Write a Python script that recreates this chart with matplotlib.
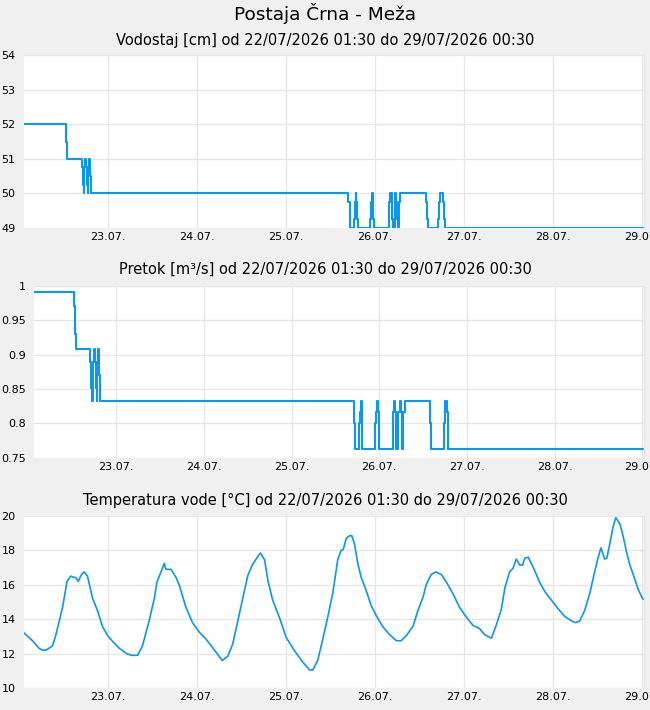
import matplotlib
matplotlib.use("Agg")
import matplotlib.pyplot as plt
import matplotlib.dates as mdates
import numpy as np
import pandas as pd

T0 = pd.Timestamp("2026-07-22 00:00")
T_START = pd.Timestamp("2026-07-22 01:30")
T_END = pd.Timestamp("2026-07-29 00:30")

# ---- Water level [cm]: change events (hours since 22.07. 00:00, value)
level_hours = [1.5, 12.78, 13.05, 17.0, 17.27, 17.54, 17.72, 17.99, 18.26, 18.44,
               18.62, 18.8, 19.07, 19.25, 19.52,
               88.74, 89.19, 89.37, 90.36, 90.53, 90.80, 90.98, 91.25, 91.52,
               94.76, 94.94, 95.21, 95.39, 95.57, 95.75,
               99.70, 99.88, 100.06, 100.51, 100.69, 100.87, 101.32, 101.50,
               101.77, 101.95, 102.13, 102.40, 102.67,
               109.86, 110.13, 110.40, 113.01, 113.28, 113.64, 114.36, 114.53,
               114.81, 168.5]
level_values = [52.0, 51.5, 51.0, 50.75, 50.25, 50.0, 50.75, 51.0, 50.75, 50.25,
                50.0, 50.75, 51.0, 50.5, 50.0,
                49.75, 49.25, 49.0, 49.25, 49.75, 50.0, 49.75, 49.25, 49.0,
                49.25, 49.75, 50.0, 49.75, 49.25, 49.0,
                49.25, 49.75, 50.0, 49.75, 49.25, 49.0, 49.75, 50.0,
                49.75, 49.25, 49.0, 49.75, 50.0,
                49.75, 49.25, 49.0, 49.25, 49.75, 50.0, 49.75, 49.25,
                49.0, 49.0]

# ---- Discharge [m3/s]: change events
flow_hours = [1.5, 12.47, 12.83, 13.11, 16.86, 17.13, 17.49, 17.68, 18.04, 18.32,
              18.5, 18.68, 18.87, 19.14, 19.32, 19.51,
              89.06, 89.33, 90.52, 90.70, 90.98, 91.16, 91.43,
              94.99, 95.17, 95.35, 95.55, 95.82,
              99.66, 99.94, 100.21, 100.48, 101.21, 101.58, 101.86, 102.13,
              102.59, 102.95,
              109.9, 110.28, 113.74, 113.92, 114.1, 114.47, 114.74, 168.5]
flow_values = [0.991, 0.971, 0.930, 0.908, 0.890, 0.852, 0.832, 0.890, 0.908, 0.890,
               0.852, 0.832, 0.890, 0.908, 0.871, 0.832,
               0.800, 0.762, 0.800, 0.816, 0.833, 0.816, 0.762,
               0.800, 0.816, 0.833, 0.816, 0.762,
               0.816, 0.833, 0.816, 0.762, 0.816, 0.833, 0.816, 0.762,
               0.816, 0.833,
               0.800, 0.762, 0.800, 0.816, 0.833, 0.816, 0.762, 0.762]

# ---- Water temperature [°C] readings
temp_hours = [1.5, 3.8, 5.6, 6.5, 7.4, 9.2, 10.1, 11.0, 11.9, 12.8, 13.1, 14.1,
              15.5, 16.1, 17.0, 17.7, 18.6, 19.3, 20.0, 21.3, 22.7, 24.0, 25.4,
              27.2, 29.2, 30.3, 32.1, 33.4, 35.2, 36.6, 37.3, 38.4, 39.3, 39.7,
              41.1, 42.4, 43.3, 45.1, 46.9, 48.7, 50.5, 52.3, 53.7, 54.9, 56.4,
              57.7, 59.1, 60.4, 61.8, 63.1, 64.5, 65.2, 66.3, 67.2, 68.5, 70.3,
              72.1, 74.4, 76.6, 78.4, 79.3, 80.6, 82.0, 83.3, 84.7, 86.0, 86.9,
              87.5, 88.3, 89.2, 89.8, 90.5, 91.4, 92.3, 93.7, 95.0, 96.4, 98.2,
              100.0, 101.3, 101.8, 103.1, 104.5, 106.3, 107.6, 109.0, 109.9,
              111.2, 112.4, 113.9, 115.3, 117.0, 118.8, 120.7, 122.4, 124.2,
              125.6, 127.0, 127.4, 128.7, 130.1, 131.0, 132.3, 133.2, 134.1,
              135.0, 135.8, 136.4, 137.3, 138.6, 140.4, 141.8, 143.6, 145.4,
              147.2, 149.0, 150.1, 151.2, 152.5, 153.9, 155.2, 156.1, 156.9,
              157.9, 158.5, 159.3, 160.2, 160.9, 162.0, 162.9, 163.8, 164.7,
              166.0, 166.9, 168.1, 168.5]
temp_values = [13.2, 12.75, 12.3, 12.2, 12.2, 12.45, 13.1, 13.9, 14.7, 15.8, 16.2, 16.5,
               16.4, 16.2, 16.6, 16.75, 16.5, 15.85, 15.2, 14.5, 13.55, 13.05, 12.7,
               12.3, 12.0, 11.9, 11.9, 12.45, 13.9, 15.2, 16.15, 16.75, 17.25, 16.9,
               16.9, 16.45, 16.0, 14.7, 13.8, 13.25, 12.85, 12.35, 11.95, 11.6, 11.85,
               12.55, 13.9, 15.2, 16.55, 17.2, 17.65, 17.85, 17.45, 16.25, 15.1, 14.1,
               12.95, 12.15, 11.5, 11.05, 11.05, 11.6, 12.85, 14.1, 15.55, 17.45, 18.0,
               18.05, 18.7, 18.85, 18.85, 18.4, 17.25, 16.45, 15.65, 14.8, 14.2, 13.55,
               13.1, 12.85, 12.75, 12.75, 13.05, 13.6, 14.5, 15.3, 16.05,
               16.6, 16.75, 16.6, 16.15, 15.5, 14.7, 14.1, 13.65, 13.45,
               13.1, 12.95, 12.9, 13.65, 14.6, 15.8, 16.75, 16.95, 17.5,
               17.15, 17.15, 17.55, 17.6, 17.05, 16.15, 15.6, 15.1, 14.6,
               14.15, 13.9, 13.8, 13.9, 14.5, 15.5, 16.75, 17.55, 18.15,
               17.5, 17.55, 18.4, 19.4, 19.9, 19.55, 18.8, 17.9, 17.15,
               16.35, 15.75, 15.2, 15.15]

level_ticks = [49, 50, 51, 52, 53, 54]
flow_ticks = [0.75, 0.8, 0.85, 0.9, 0.95, 1.0]
flow_ticklabels = ["0.75", "0.8", "0.85", "0.9", "0.95", "1"]
temp_ticks = [10, 12, 14, 16, 18, 20]

main_title = "Postaja Črna - Meža"
titles = ["Vodostaj [cm] od 22/07/2026 01:30 do 29/07/2026 00:30",
          "Pretok [m³/s] od 22/07/2026 01:30 do 29/07/2026 00:30",
          "Temperatura vode [°C] od 22/07/2026 01:30 do 29/07/2026 00:30"]


def to_time(hours):
    return T0 + pd.to_timedelta(np.asarray(hours, dtype=float), unit="h")


BLUE = "#0a97ef"
BG = "#f0f0f0"
GRID = "#e6e6e6"

plt.rcParams["font.family"] = ["DejaVu Sans"]
fig = plt.figure(figsize=(6.5, 7.1), dpi=100, facecolor=BG)

W, H = 650.0, 710.0
boxes = [(24, 644, 55, 228), (34, 644, 286, 457.7), (24, 644, 516, 688)]
axes = []
for (l, r, t, b) in boxes:
    ax = fig.add_axes([l / W, 1 - b / H, (r - l) / W, (b - t) / H])
    ax.set_facecolor("white")
    axes.append(ax)

ax1, ax2, ax3 = axes
ax1.plot(to_time(level_hours), level_values, drawstyle="steps-post", color=BLUE, lw=1.5)
ax2.plot(to_time(flow_hours), flow_values, drawstyle="steps-post", color=BLUE, lw=1.5)
ax3.plot(to_time(temp_hours), temp_values, color=BLUE, lw=1.2)

ax1.set_ylim(49, 54)
ax1.set_yticks(level_ticks)
ax1.set_yticklabels([str(v) for v in level_ticks])
ax2.set_ylim(0.75, 1.0)
ax2.set_yticks(flow_ticks)
ax2.set_yticklabels(flow_ticklabels)
ax3.set_ylim(10, 20)
ax3.set_yticks(temp_ticks)
ax3.set_yticklabels([str(v) for v in temp_ticks])

for ax in axes:
    ax.set_xlim(T_START, T_END)
    ax.xaxis.set_major_locator(mdates.DayLocator())
    ax.xaxis.set_major_formatter(mdates.DateFormatter("%d.%m."))
    ax.grid(True, color=GRID, lw=1.0)
    ax.set_axisbelow(True)
    for name, s in ax.spines.items():
        if name == "right":
            s.set_color(GRID)
            s.set_linewidth(1.0)
        else:
            s.set_visible(False)
    ax.tick_params(axis="both", length=0, labelsize=8, colors="black")
    ax.tick_params(axis="y", pad=6)
    ax.tick_params(axis="x", pad=3)

fig.text(0.5, 1 - 14 / H, main_title, ha="center", va="center", fontsize=13.3)
for ty, txt in zip([40, 269, 500], titles):
    fig.text(0.5, 1 - ty / H, txt, ha="center", va="center", fontsize=10.5)

fig.savefig("out.png", dpi=100, facecolor=BG)
